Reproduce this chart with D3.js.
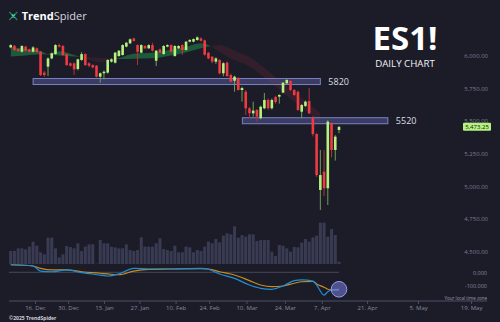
<!DOCTYPE html>
<html>
<head>
<meta charset="utf-8">
<script src="https://cdn.jsdelivr.net/npm/d3@7"></script>
<style>
  html, body { margin: 0; padding: 0; background: #1c1c29; }
  svg { display: block; }
  text { font-family: "Open Sans", "DejaVu Sans", sans-serif; }
</style>
</head>
<body>
<div id="chart"></div>
<script>
// daily bars, oldest first (ES1! continuous)
const opens  = [6081,6094,6068,6048,6087,6066,6048,6074,6048,5888,5934,5997,6030,6099,6092,6028,5959,5959,5916,5985,
                6030,5959,5946,5941,5857,5883,5888,5972,5964,6015,6023,6087,6112,6150,6099,6041,6092,6074,6099,5979,
                6066,6030,6087,6099,6015,6074,6099,6061,6125,6125,6138,6150,6135,6040,6010,5972,5985,5883,5965,5870,
                5826,5845,5755,5742,5615,5577,5602,5539,5615,5679,5615,5702,5704,5735,5806,5824,5755,5742,5589,5633,
                5671,5546,5418,4990,5130,5003,5500,5296,5449];
const highs  = [6105,6100,6075,6098,6093,6072,6090,6080,6055,5900,6005,6042,6106,6110,6100,6035,5965,5965,5995,6045,
                6036,5968,5952,5946,5890,5905,5990,5998,6046,6060,6105,6122,6150,6155,6105,6105,6098,6105,6117,6060,
                6072,6098,6105,6105,6098,6098,6105,6130,6145,6150,6166,6158,6140,6046,6015,6005,5990,5968,5972,5880,
                5865,5855,5780,5755,5625,5666,5610,5635,5732,5690,5690,5710,5722,5818,5840,5832,5762,5750,5648,5675,
                5770,5555,5425,5296,5296,5525,5510,5410,5478];
const lows   = [6075,6055,6045,6042,6050,6042,6042,6040,5862,5855,5862,5990,6025,6080,6015,5940,5935,5870,5905,5978,
                5940,5930,5920,5850,5811,5836,5880,5965,5958,6010,6018,6082,6108,6125,5946,6035,6068,6070,6050,5938,
                6035,6025,6082,6042,6010,6068,6023,6055,6120,6120,6132,6125,6018,5990,5960,5955,5875,5860,5855,5812,
                5742,5750,5666,5564,5540,5551,5513,5530,5608,5605,5605,5650,5651,5730,5800,5748,5708,5595,5539,5625,
                5570,5400,5090,4837,4943,4875,5240,5215,5424];
const closes = [6099,6061,6053,6092,6056,6048,6081,6046,5870,5870,5997,6036,6099,6087,6023,5946,5941,5913,5990,6030,
                5946,5941,5928,5857,5883,5895,5985,5990,6041,6056,6099,6117,6143,6130,6048,6099,6074,6099,6056,6056,
                6041,6092,6099,6048,6092,6092,6061,6125,6138,6145,6158,6132,6025,5997,5972,5997,5883,5960,5862,5819,
                5857,5755,5770,5615,5577,5597,5551,5627,5679,5615,5679,5663,5717,5811,5832,5755,5717,5602,5640,5666,
                5577,5418,5104,5104,5003,5513,5296,5398,5473.25];
// volume, thousand contracts
const volumes = [1950,1950,2350,2350,2200,2600,3350,2750,1750,1450,3950,3950,2350,1000,1450,2700,2550,2350,3100,1950,
                 2600,2950,2950,50,3600,3100,3100,2600,2500,2350,2350,2950,2100,1950,2100,4000,2600,2600,2600,3100,
                 3850,2250,2100,1950,2750,1750,1750,2600,2500,1750,2100,1950,2600,3350,3100,3750,3250,4250,4600,4450,
                 5650,3950,4350,4100,4450,4450,3450,3600,3600,3600,1850,1200,2850,2750,2350,1850,2550,2500,3200,3750,
                 3350,4000,4250,6200,6200,4100,5250,4350,350];

// moving-average cloud, sampled
const cloudIdx  = [0,4,8,10,13,17,20,24,27,29,33,38,43,47,51,53,54,56,58,61,64,67,70,73,76,79,82,83];
const cloudFast = [6086,6069,6054,6031,6052,6023,5996,5969,5985,6000,6033,6040,6063,6086,6113,6099,6084,6046,6011,5973,5935,5874,5805,5736,5667,5598,5529,5506];
const cloudSlow = [6012,6020,6029,6027,6020,6012,6008,6000,5996,5992,5994,5998,6020,6043,6075,6088,6092,6102,6083,6046,6008,5947,5878,5809,5740,5671,5602,5579];

// MACD, sampled
const macdIdx    = [0,6,8,11,15,19,24,26,29,33,37,42,51,53,56,60,64,67,70,73,76,78,81,82,84,85,86,88];
const macdLine   = [55,46,9,4,17,-3,-20,-27,-12,29,24,24,29,22,-12,-44,-93,-117,-124,-100,-61,-56,-64,-93,-166,-142,-129,-124];
const signalLine = [55,46,29,17,17,4,-7,-12,-18,9,22,24,26,24,4,-20,-61,-93,-105,-100,-80,-69,-66,-85,-109,-124,-129,-129];

// support / resistance zones
const levels     = [5820, 5520];
const levelStart = [6, 62.1];
const levelEnd   = [83, 101.1];

const priceTicks = [4500, 4750, 5000, 5250, 5500, 5750, 6000];
const macdTicks  = [0, -100];
const dateTickIdx = [6.5, 15.4, 25, 34.5, 44.2, 53.2, 63.2, 73.5, 83.4, 95.5, 109.2, 123.4];
const dateLabels  = ["16. Dec","30. Dec","13. Jan","27. Jan","10. Feb","24. Feb","10. Mar","24. Mar","7. Apr","21. Apr","5. May","19. May"];

const width = 500;
const height = 322;
const green = "#b6f27e", red = "#ee3a40";

const svg = d3.select("#chart").append("svg")
    .attr("width", width).attr("height", height);
svg.append("rect").attr("width", width).attr("height", height).attr("fill", "#1c1c29");

const x = d3.scaleLinear().domain([0, closes.length - 1]).range([10.7, 339]);
const y = d3.scaleLinear().domain([4500, 6000]).range([254, 58]);
const yVol = d3.scaleLinear().domain([0, 6200]).range([264, 222.7]);
const yMacd = d3.scaleLinear().domain([-100, 0]).range([286, 272.3]);

// ---- volume
svg.append("g").selectAll("rect")
    .data(volumes)
    .join("rect")
    .attr("x", (d, i) => x(i) - 1.5)
    .attr("width", 3)
    .attr("y", d => yVol(d))
    .attr("height", d => yVol(0) - yVol(d))
    .attr("fill", "#393b53");

// ---- cloud (difference chart)
const cloud = cloudIdx.map((d, i) => ({i: d, f: cloudFast[i], s: cloudSlow[i]}));
const defs = svg.append("defs");
defs.append("clipPath").attr("id", "aboveFast").append("path")
    .attr("d", d3.area().x(d => x(d.i)).y0(0).y1(d => y(d.f)).curve(d3.curveMonotoneX)(cloud));
defs.append("clipPath").attr("id", "belowFast").append("path")
    .attr("d", d3.area().x(d => x(d.i)).y0(height).y1(d => y(d.f)).curve(d3.curveMonotoneX)(cloud));
svg.append("path")
    .attr("clip-path", "url(#belowFast)")
    .attr("d", d3.area().x(d => x(d.i)).y0(0).y1(d => y(d.s)).curve(d3.curveMonotoneX)(cloud))
    .attr("fill", "#1e5a3a");
svg.append("path")
    .attr("clip-path", "url(#aboveFast)")
    .attr("d", d3.area().x(d => x(d.i)).y0(height).y1(d => y(d.s)).curve(d3.curveMonotoneX)(cloud))
    .attr("fill", "#5a2232").attr("opacity", 0.38);

// ---- level zones
const zones = svg.append("g");
levels.forEach((lv, k) => {
    zones.append("rect")
        .attr("x", x(levelStart[k]))
        .attr("width", x(levelEnd[k]) - x(levelStart[k]))
        .attr("y", y(lv) - 3)
        .attr("height", 6)
        .attr("fill", "rgba(95,100,170,0.45)")
        .attr("stroke", "#7c80c2")
        .attr("stroke-width", 1);
    zones.append("text")
        .attr("x", x(levelEnd[k]) + 8)
        .attr("y", y(lv) + 3.3)
        .attr("font-size", 9)
        .attr("fill", "#dcdce4")
        .text(lv);
});

// ---- candles
const candles = svg.append("g").selectAll("g")
    .data(closes.map((c, i) => ({i, o: opens[i], h: highs[i], l: lows[i], c})))
    .join("g");
candles.append("line")
    .attr("x1", d => x(d.i)).attr("x2", d => x(d.i))
    .attr("y1", d => y(d.h)).attr("y2", d => y(d.l))
    .attr("stroke", d => d.c >= d.o ? "#6e9e52" : "#b0333a")
    .attr("stroke-width", 1);
candles.append("rect")
    .attr("x", d => x(d.i) - 1.3)
    .attr("width", 2.6)
    .attr("y", d => y(Math.max(d.o, d.c)))
    .attr("height", d => Math.max(1, Math.abs(y(d.o) - y(d.c))))
    .attr("fill", d => d.c >= d.o ? green : red);

// ---- price axis
const priceAxis = svg.append("g")
    .attr("transform", "translate(488,0)")
    .call(d3.axisLeft(y).tickValues(priceTicks).tickSize(0).tickPadding(0).tickFormat(d3.format(",.2f")));
priceAxis.select(".domain").remove();
priceAxis.selectAll("text").attr("font-size", 6).attr("fill", "#7b7e90").attr("dy", "-0.1em")
    .attr("font-family", "\"Open Sans\", sans-serif");

// last price tag
const last = closes[closes.length - 1];
svg.append("rect").attr("x", 463).attr("y", y(last) - 4).attr("width", 28).attr("height", 8)
    .attr("fill", green).attr("rx", 1);
svg.append("text").attr("x", 477).attr("y", y(last) + 2.1).attr("text-anchor", "middle")
    .attr("font-size", 6).attr("fill", "#15151c").text(d3.format(",.2f")(last));

// ---- MACD
svg.append("line")
    .attr("x1", x(-0.5)).attr("x2", x(closes.length - 1))
    .attr("y1", yMacd(0)).attr("y2", yMacd(0))
    .attr("stroke", "#46485a").attr("stroke-width", 1);
const macdPts = macdIdx.map((d, i) => ({i: d, m: macdLine[i], s: signalLine[i]}));
svg.append("path")
    .attr("d", d3.line().x(d => x(d.i)).y(d => yMacd(d.s)).curve(d3.curveMonotoneX)(macdPts))
    .attr("fill", "none").attr("stroke", "#c98b1f").attr("stroke-width", 1.2);
svg.append("path")
    .attr("d", d3.line().x(d => x(d.i)).y(d => yMacd(d.m)).curve(d3.curveMonotoneX)(macdPts))
    .attr("fill", "none").attr("stroke", "#1d8fd3").attr("stroke-width", 1.2);
const lastM = macdPts[macdPts.length - 1];
svg.append("circle")
    .attr("cx", x(lastM.i)).attr("cy", yMacd(lastM.m)).attr("r", 7.8)
    .attr("fill", "rgba(120,126,220,0.55)").attr("stroke", "#959bec").attr("stroke-width", 1);

const macdAxis = svg.append("g")
    .attr("transform", "translate(487,0)")
    .call(d3.axisLeft(yMacd).tickValues(macdTicks).tickSize(0).tickPadding(0).tickFormat(d => d.toFixed(3)));
macdAxis.select(".domain").remove();
macdAxis.selectAll("text").attr("font-size", 5.5).attr("fill", "#8a8d9e")
    .attr("font-family", "\"Open Sans\", sans-serif");

// ---- time axis
svg.append("line").attr("x1", 9).attr("x2", 487).attr("y1", 301).attr("y2", 301)
    .attr("stroke", "#4c4f62").attr("stroke-width", 1);
const timeAxis = svg.append("g")
    .attr("transform", "translate(0,301)")
    .call(d3.axisBottom(x).tickValues(dateTickIdx).tickSize(3).tickPadding(2)
        .tickFormat((d, i) => dateLabels[i]));
timeAxis.select(".domain").remove();
timeAxis.selectAll("line").attr("stroke", "#4c4f62");
timeAxis.selectAll("text").attr("font-size", 6).attr("fill", "#868a9b")
    .attr("font-family", "\"Open Sans\", sans-serif");

svg.append("text").attr("x", 487).attr("y", 299.5).attr("text-anchor", "end")
    .attr("font-size", 4.5).attr("fill", "#9a9db0").text("Your local time zone");

// ---- titles and branding
svg.append("text").attr("x", 405).attr("y", 49.5).attr("text-anchor", "middle")
    .attr("font-size", 33).attr("font-weight", 700).attr("fill", "#ffffff").text("ES1!");
svg.append("text").attr("x", 405).attr("y", 67).attr("text-anchor", "middle")
    .attr("font-size", 9.7).attr("fill", "#f2f2f5").text("DAILY CHART");

const logo = svg.append("g").attr("transform", "translate(13.3,16)");
logo.append("path").attr("d", "M-4,-4 L4,4 M4,-4 L-4,4")
    .attr("stroke", "#1f7a5a").attr("stroke-width", 1.6);
logo.append("path").attr("d", "M-1.5,-1.5 L1.5,1.5 M1.5,-1.5 L-1.5,1.5")
    .attr("stroke", "#4fd0a0").attr("stroke-width", 1.4);
const brand = svg.append("text").attr("x", 21.7).attr("y", 19.6)
    .attr("font-size", 11).attr("font-family", "Lato, sans-serif");
brand.append("tspan").attr("font-weight", 700).attr("fill", "#ffffff").text("Trend");
brand.append("tspan").attr("fill", "#d6d6de").text("Spider");

svg.append("text").attr("x", 9).attr("y", 319.5).attr("font-size", 5).attr("font-weight", 700)
    .attr("fill", "#cfd0d8").text("©2025 TrendSpider");
</script>
</body>
</html>
